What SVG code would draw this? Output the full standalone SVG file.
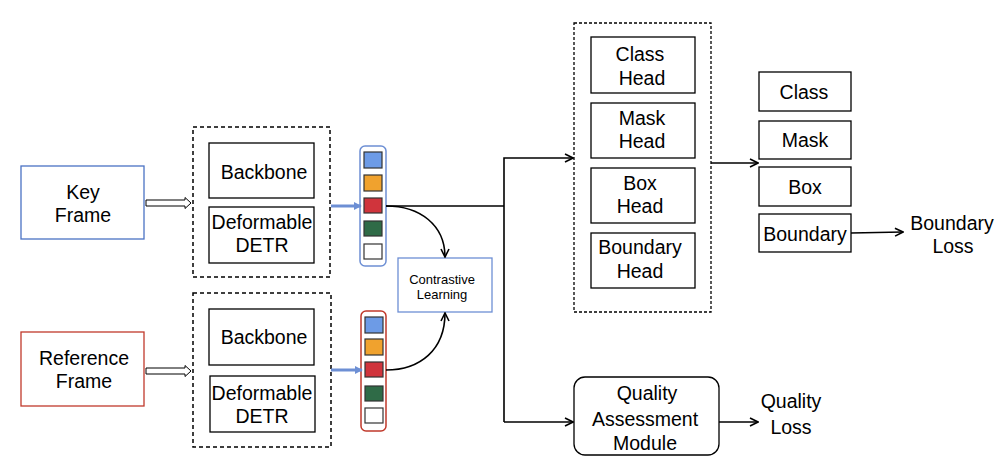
<svg xmlns="http://www.w3.org/2000/svg" width="1008" height="468" viewBox="0 0 1008 468">
<defs>
<style>
text{font-family:"Liberation Sans",Arial,sans-serif;font-size:19.5px;fill:#000;text-anchor:middle}
.sm{font-size:13px}
.box{fill:#fff;stroke:#000;stroke-width:1.3}
.dash{fill:none;stroke:#000;stroke-width:1.5;stroke-dasharray:4 3}
.dash2{fill:none;stroke:#000;stroke-width:1.3;stroke-dasharray:3 2}
.ln{fill:none;stroke:#000;stroke-width:1.6}
.blu{fill:none;stroke:#6d8fd4;stroke-width:3}
.hol{fill:#fff;stroke:#000;stroke-width:1}
.sq{stroke:#333;stroke-width:1.2}
</style>
<marker id="ah" viewBox="0 0 10 10" refX="9" refY="5" markerWidth="10" markerHeight="10" markerUnits="userSpaceOnUse" orient="auto">
<path d="M1,1 L9,5 L1,9" fill="none" stroke="#000" stroke-width="1.6"/>
</marker>
<marker id="bh" viewBox="0 0 10 10" refX="9" refY="5" markerWidth="8" markerHeight="8" markerUnits="userSpaceOnUse" orient="auto">
<path d="M0,0 L10,5 L0,10 Z" fill="#6d8fd4"/>
</marker>
</defs>

<g id="key-frame">
<rect x="21" y="166" width="123" height="73" fill="#fff" stroke="#4a72c4" stroke-width="1.3"/>
<text x="83" y="199">Key</text>
<text x="83" y="222">Frame</text>
</g>
<g id="reference-frame">
<rect x="21" y="332" width="123" height="74" fill="#fff" stroke="#c0392b" stroke-width="1.3"/>
<text x="84" y="365">Reference</text>
<text x="84" y="388">Frame</text>
</g>

<g id="encoder-key">
<rect class="dash" x="193" y="127" width="137" height="150"/>
<rect class="box" x="209" y="143" width="105" height="55"/>
<text x="264" y="179">Backbone</text>
<rect class="box" x="209" y="207" width="105" height="56"/>
<text x="262" y="229">Deformable</text>
<text x="262" y="252">DETR</text>
</g>
<g id="encoder-ref">
<rect class="dash" x="193" y="293" width="138" height="154"/>
<rect class="box" x="209" y="309" width="105" height="56"/>
<text x="264" y="344">Backbone</text>
<rect class="box" x="210" y="376" width="105" height="56"/>
<text x="262" y="400">Deformable</text>
<text x="262" y="423">DETR</text>
</g>

<g id="queries-key">
<rect x="360" y="146" width="26" height="120" rx="5" fill="#fff" stroke="#6d8fd4" stroke-width="1.5"/>
<rect class="sq" x="364" y="152" width="18" height="16" fill="#6d9be6"/>
<rect class="sq" x="364" y="175" width="18" height="16" fill="#f0a22e"/>
<rect class="sq" x="364" y="198" width="18" height="15" fill="#d0343c"/>
<rect class="sq" x="364" y="221" width="18" height="15" fill="#2f6b47"/>
<rect class="sq" x="364" y="244" width="18" height="15" fill="#fff"/>
</g>
<g id="queries-ref">
<rect x="361" y="311" width="25" height="120" rx="5" fill="#fff" stroke="#c0392b" stroke-width="1.5"/>
<rect class="sq" x="365" y="317" width="18" height="16" fill="#6d9be6"/>
<rect class="sq" x="365" y="339" width="18" height="16" fill="#f0a22e"/>
<rect class="sq" x="365" y="362" width="18" height="15" fill="#d0343c"/>
<rect class="sq" x="365" y="386" width="18" height="15" fill="#2f6b47"/>
<rect class="sq" x="365" y="408" width="18" height="15" fill="#fff"/>
</g>

<g id="contrastive">
<rect x="398" y="258" width="94" height="54" fill="#fff" stroke="#6d8fd4" stroke-width="1.3"/>
<text class="sm" x="442" y="284">Contrastive</text>
<text class="sm" x="442" y="299">Learning</text>
</g>

<g id="heads">
<rect class="dash2" x="574" y="23" width="137" height="289"/>
<rect class="box" x="591" y="37" width="104" height="56"/>
<text x="640" y="61">Class</text>
<text x="642" y="85">Head</text>
<rect class="box" x="591" y="103" width="104" height="55"/>
<text x="642" y="125">Mask</text>
<text x="642" y="148">Head</text>
<rect class="box" x="591" y="168" width="104" height="55"/>
<text x="640" y="190">Box</text>
<text x="640" y="213">Head</text>
<rect class="box" x="591" y="233" width="104" height="55"/>
<text x="640" y="254">Boundary</text>
<text x="640" y="278">Head</text>
</g>

<g id="qam">
<rect class="box" x="574" y="377" width="145" height="78" rx="11"/>
<text x="647" y="400">Quality</text>
<text x="645" y="426">Assessment</text>
<text x="645" y="450">Module</text>
</g>

<g id="outputs">
<rect class="box" x="759" y="72" width="92" height="39"/>
<text x="804" y="99">Class</text>
<rect class="box" x="759" y="121" width="92" height="38"/>
<text x="805" y="147">Mask</text>
<rect class="box" x="759" y="167" width="92" height="39"/>
<text x="805" y="194">Box</text>
<rect class="box" x="759" y="214" width="92" height="38"/>
<text x="805" y="241">Boundary</text>
</g>

<g id="losses">
<text x="952" y="230">Boundary</text>
<text x="953" y="253">Loss</text>
<text x="791" y="408">Quality</text>
<text x="791" y="434">Loss</text>
</g>

<g id="connectors">
<polygon class="hol" points="146,200 185,200 185,197.5 191,203 185,208.5 185,206 146,206"/>
<polygon class="hol" points="146,368 185,368 185,365.5 191,371 185,376.5 185,374 146,374"/>
<line class="blu" x1="331" y1="206" x2="361" y2="206" marker-end="url(#bh)"/>
<line class="blu" x1="331" y1="370" x2="362" y2="370" marker-end="url(#bh)"/>
<path class="ln" d="M386,206 C420,206 445,225 445,257" marker-end="url(#ah)"/>
<path class="ln" d="M386,370 C420,370 445,350 445,313" marker-end="url(#ah)"/>
<polyline class="ln" points="386,206 504,206"/>
<polyline class="ln" points="504,422 504,158 573,158" marker-end="url(#ah)"/>
<polyline class="ln" points="504,422 573,422" marker-end="url(#ah)"/>
<line class="ln" x1="711" y1="163" x2="758" y2="163" marker-end="url(#ah)"/>
<line class="ln" x1="851" y1="233" x2="903" y2="232" marker-end="url(#ah)"/>
<line class="ln" x1="719" y1="422" x2="758" y2="422" marker-end="url(#ah)"/>
</g>
</svg>
